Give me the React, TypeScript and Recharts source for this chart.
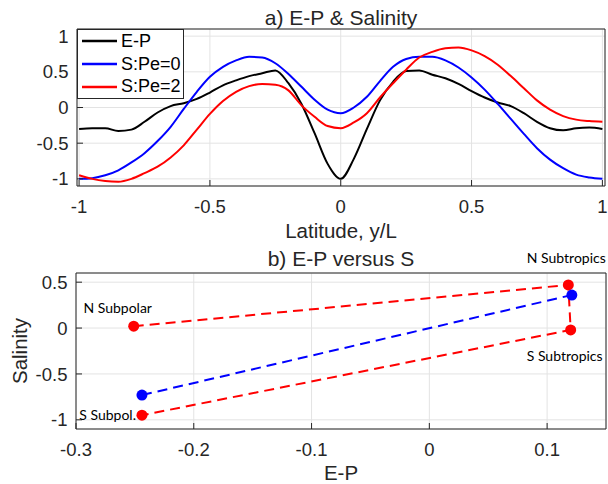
import React from "react";
import {
  CartesianGrid,
  Legend,
  Line,
  LineChart,
  Scatter,
  ScatterChart,
  XAxis,
  YAxis,
} from "recharts";

// panel a: profiles against latitude
const latitude = [
  -1, -0.95, -0.9, -0.85, -0.8, -0.75, -0.7, -0.65, -0.6, -0.55, -0.5, -0.45,
  -0.4, -0.35, -0.3, -0.25, -0.2, -0.15, -0.1, -0.05, 0, 0.05, 0.1, 0.15, 0.2,
  0.25, 0.3, 0.35, 0.4, 0.45, 0.5, 0.55, 0.6, 0.65, 0.7, 0.75, 0.8, 0.85, 0.9,
  0.95, 1,
];
const evapMinusPrecip = [
  -0.3, -0.29, -0.29, -0.33, -0.31, -0.2, -0.07, 0.02, 0.06, 0.12, 0.21, 0.31,
  0.38, 0.44, 0.48, 0.52, 0.34, 0.05, -0.36, -0.79, -1.0, -0.72, -0.3, 0.1,
  0.36, 0.51, 0.52, 0.46, 0.41, 0.33, 0.23, 0.14, 0.07, 0.02, -0.08, -0.2,
  -0.29, -0.32, -0.29, -0.28, -0.3,
];
const salinityPe0 = [
  -1.0, -0.99, -0.95, -0.88, -0.77, -0.64, -0.47, -0.27, -0.02, 0.22, 0.43,
  0.57, 0.66, 0.71, 0.7, 0.62, 0.47, 0.29, 0.11, -0.03, -0.08, 0.0, 0.15, 0.37,
  0.57, 0.68, 0.71, 0.71, 0.66, 0.56, 0.42, 0.25, 0.05, -0.16, -0.37, -0.57,
  -0.73, -0.85, -0.94, -0.98, -1.0,
];
const salinityPe2 = [
  -0.95, -1.0, -1.03, -1.04, -1.0, -0.92, -0.83, -0.7, -0.53, -0.31, -0.09,
  0.09, 0.22, 0.3, 0.33, 0.32, 0.24, 0.03, -0.13, -0.26, -0.29, -0.21, -0.08,
  0.14, 0.34, 0.53, 0.7, 0.78, 0.83, 0.84, 0.8, 0.72, 0.6, 0.44, 0.27, 0.1,
  -0.03, -0.12, -0.17, -0.19, -0.2,
];

// panel b: region averages
const regionNames = ["N Subpolar", "N Subtropics", "S Subtropics", "S Subpol."];
const regionEP = [-0.251, 0.118, 0.12, -0.244];
const regionSalPe2 = [0.02, 0.47, -0.02, -0.95];
const pe0EP = [-0.244, 0.121];
const pe0Sal = [-0.73, 0.36];

const latTicks = [-1, -0.5, 0, 0.5, 1];
const profileTicks = [-1, -0.5, 0, 0.5, 1];
const epTicks = [-0.3, -0.2, -0.1, 0, 0.1];
const salTicks = [-1, -0.5, 0, 0.5];

const FONT = '"Liberation Sans", Arial, Helvetica, sans-serif';
const NOTE_FONT = 'Lato, "Open Sans", sans-serif';
const AXIS = "#262626";
const GRID = "#e3e3e3";

const profileRows = latitude.map((lat, i) => ({
  lat,
  ep: evapMinusPrecip[i],
  s0: salinityPe0[i],
  s2: salinityPe2[i],
}));
const pe2Points = regionNames.map((name, i) => ({
  name,
  ep: regionEP[i],
  s: regionSalPe2[i],
}));
const pe0Points = pe0EP.map((ep, i) => ({ name: "", ep, s: pe0Sal[i] }));

const tickText = { fontFamily: FONT, fontSize: 18.5, fill: AXIS };
const labelText = { fontFamily: FONT, fontSize: 20.5, fill: AXIS };

const notePlacement: Record<string, { dx: number; dy: number; anchor: string }> = {
  "N Subpolar": { dx: -16, dy: -13, anchor: "middle" },
  "N Subtropics": { dx: -2, dy: -22, anchor: "middle" },
  "S Subtropics": { dx: -6, dy: 31, anchor: "middle" },
  "S Subpol.": { dx: -6, dy: 5, anchor: "end" },
};

const BoxLegend = ({ payload }: any) => (
  <div
    style={{
      border: `1px solid ${AXIS}`,
      background: "#fff",
      width: 105,
      fontFamily: FONT,
      fontSize: 18,
      color: "#000",
      lineHeight: "22.67px",
    }}
  >
    {(payload || []).map((p: any) => (
      <div key={p.value} style={{ display: "flex", alignItems: "center", height: 22.67 }}>
        <svg width={43} height={6} style={{ display: "block" }}>
          <line x1={4} x2={39} y1={3} y2={3} stroke={p.color} strokeWidth={2.5} />
        </svg>
        <span>{p.value}</span>
      </div>
    ))}
  </div>
);

const Marker = (props: any) => {
  const { cx, cy, payload, color } = props;
  const place = notePlacement[payload?.name];
  return (
    <g>
      <circle cx={cx} cy={cy} r={5.5} fill={color} />
      {place && (
        <text
          x={cx + place.dx}
          y={cy + place.dy}
          textAnchor={place.anchor}
          fontFamily={NOTE_FONT}
          fontSize={14}
          fill="#000"
        >
          {payload.name}
        </text>
      )}
    </g>
  );
};

export default function App() {
  return (
    <div style={{ position: "absolute", left: 0, top: 0, width: 608, height: 484, background: "#fff" }}>
      <LineChart width={608} height={244} data={profileRows} margin={{ top: 28, right: 2, bottom: 0, left: 0 }}>
        <CartesianGrid stroke={GRID} />
        <XAxis
          dataKey="lat"
          type="number"
          domain={[-1.008, 1.01]}
          ticks={latTicks}
          allowDataOverflow
          height={58}
          stroke={AXIS}
          tickSize={-6}
          tickMargin={20}
          tick={tickText}
          label={{ value: "Latitude, y/L", position: "insideBottom", offset: 6, style: labelText }}
        />
        <XAxis
          xAxisId="top"
          orientation="top"
          dataKey="lat"
          type="number"
          domain={[-1.008, 1.01]}
          ticks={latTicks}
          allowDataOverflow
          height={1}
          stroke={AXIS}
          tickSize={-6}
          tick={false}
          label={{ value: "a) E-P & Salinity", position: "top", offset: 3, style: { ...labelText, fontSize: 21 } }}
        />
        <YAxis
          type="number"
          domain={[-1.1, 1.1]}
          ticks={profileTicks}
          allowDataOverflow
          width={77}
          stroke={AXIS}
          tickSize={-6}
          tickMargin={14.5}
          tick={tickText}
        />
        <YAxis
          yAxisId="right"
          orientation="right"
          type="number"
          domain={[-1.1, 1.1]}
          ticks={profileTicks}
          allowDataOverflow
          width={1}
          stroke={AXIS}
          tickSize={-6}
          tick={false}
        />
        <Legend
          layout="horizontal"
          align="center"
          verticalAlign="middle"
          content={<BoxLegend />}
          wrapperStyle={{ left: 77, top: 29, width: 107, height: 70 }}
        />
        <Line type="monotone" dataKey="ep" name="E-P" stroke="#000000" strokeWidth={2} dot={false} isAnimationActive={false} />
        <Line type="monotone" dataKey="s0" name="S:Pe=0" stroke="#0000ff" strokeWidth={2} dot={false} isAnimationActive={false} />
        <Line type="monotone" dataKey="s2" name="S:Pe=2" stroke="#ff0000" strokeWidth={2} dot={false} isAnimationActive={false} />
      </LineChart>

      <ScatterChart width={608} height={240} margin={{ top: 28, right: 1, bottom: 0, left: 0 }}>
        <CartesianGrid stroke={GRID} />
        <XAxis
          dataKey="ep"
          type="number"
          domain={[-0.3, 0.15]}
          ticks={epTicks}
          height={55}
          stroke={AXIS}
          tickSize={-6}
          tickMargin={20}
          tick={tickText}
          label={{ value: "E-P", position: "insideBottom", offset: 4, style: labelText }}
        />
        <XAxis
          xAxisId="top"
          orientation="top"
          dataKey="ep"
          type="number"
          domain={[-0.3, 0.15]}
          ticks={epTicks}
          height={1}
          stroke={AXIS}
          tickSize={-6}
          tick={false}
          label={{ value: "b) E-P versus S", position: "top", offset: 6, style: { ...labelText, fontSize: 21 } }}
        />
        <YAxis
          dataKey="s"
          type="number"
          domain={[-1.1, 0.6]}
          ticks={salTicks}
          width={76}
          stroke={AXIS}
          tickSize={-6}
          tickMargin={14.5}
          tick={tickText}
          label={{ value: "Salinity", angle: -90, position: "insideLeft", offset: 20, style: { ...labelText, textAnchor: "middle" } }}
        />
        <YAxis
          yAxisId="right"
          orientation="right"
          dataKey="s"
          type="number"
          domain={[-1.1, 0.6]}
          ticks={salTicks}
          width={1}
          stroke={AXIS}
          tickSize={-6}
          tick={false}
        />
        <Scatter
          data={pe2Points}
          fill="#ff0000"
          line={{ stroke: "#ff0000", strokeWidth: 2, strokeDasharray: "10 6" }}
          shape={(p: any) => <Marker {...p} color="#ff0000" />}
          isAnimationActive={false}
        />
        <Scatter
          data={pe0Points}
          fill="#0000ff"
          line={{ stroke: "#0000ff", strokeWidth: 2, strokeDasharray: "10 6" }}
          shape={(p: any) => <Marker {...p} color="#0000ff" />}
          isAnimationActive={false}
        />
      </ScatterChart>
    </div>
  );
}
